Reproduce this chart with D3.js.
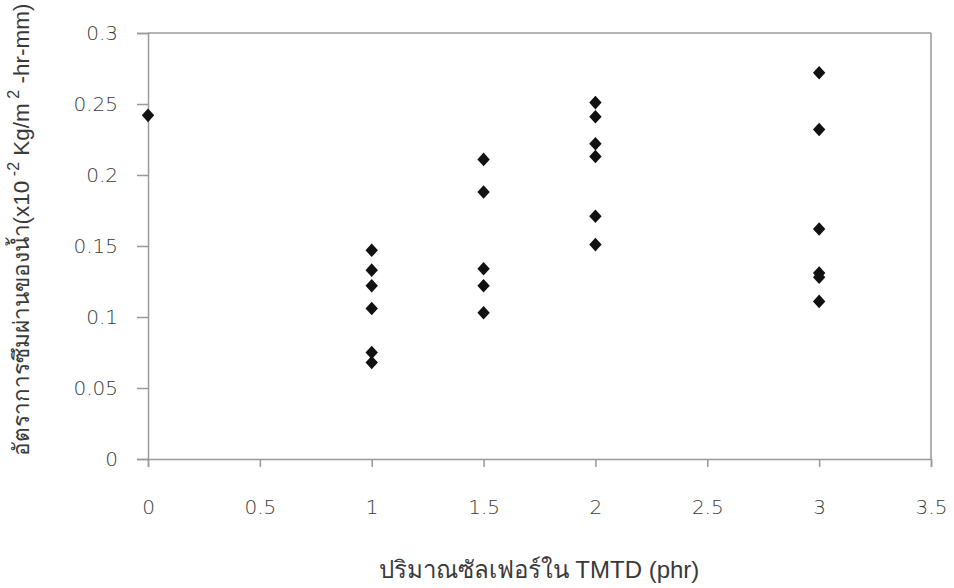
<!DOCTYPE html>
<html><head><meta charset="utf-8">
<script src="https://cdn.jsdelivr.net/npm/d3@7"></script>
<style>body{margin:0;background:#fff}svg{display:block}text{fill:#3a3a3a}</style>
</head><body><svg id="c" width="954" height="588"></svg>
<script>
const xs = [0, 1,1,1,1,1,1, 1.5,1.5,1.5,1.5,1.5, 2,2,2,2,2,2, 3,3,3,3,3,3];
const ys = [0.242, 0.147,0.133,0.122,0.106,0.075,0.068, 0.211,0.188,0.134,0.122,0.103, 0.251,0.241,0.222,0.213,0.171,0.151, 0.272,0.232,0.162,0.131,0.128,0.111];
const xTicks = [0,0.5,1,1.5,2,2.5,3,3.5];
const yTicks = [0,0.05,0.1,0.15,0.2,0.25,0.3];
const xTitle = "ปริมาณซัลเฟอร์ใน TMTD (phr)";

const svg = d3.select("#c");
const L=148,R=931,T=33,B=459;
const x = d3.scaleLinear().domain([0,3.5]).range([L,R]);
const y = d3.scaleLinear().domain([0,0.3]).range([B,T]);
const grey="#9a9a9a";
const tickFont = "'DejaVu Sans',sans-serif";

svg.append("line").attr("x1",L).attr("x2",R).attr("y1",T).attr("y2",T).attr("stroke",grey).attr("stroke-width",1.5);
svg.append("line").attr("x1",R).attr("x2",R).attr("y1",T).attr("y2",B).attr("stroke",grey).attr("stroke-width",1.5);

const xa = svg.append("g").attr("transform",`translate(0,${B})`)
  .call(d3.axisBottom(x).tickValues(xTicks).tickSize(8).tickPadding(33).tickFormat(d=>String(d)));
const ya = svg.append("g").attr("transform",`translate(${L},0)`)
  .call(d3.axisLeft(y).tickValues(yTicks).tickSize(11).tickPadding(19).tickFormat(d=>String(d)));
[xa,ya].forEach(g=>{
  g.select(".domain").attr("stroke",grey).attr("stroke-width",1.5);
  g.selectAll(".tick line").attr("stroke",grey).attr("stroke-width",1.5);
  g.selectAll(".tick text").attr("font-size",20).attr("font-weight",200).attr("fill","#333").style("font-family",tickFont);
});

const diamondType = {draw(ctx,size){const w=6.2,h=6.8;ctx.moveTo(0,-h);ctx.lineTo(w,0);ctx.lineTo(0,h);ctx.lineTo(-w,0);ctx.closePath();}};
svg.append("g").selectAll("path").data(xs.map((v,i)=>[v,ys[i]])).join("path")
  .attr("d",d3.symbol().type(diamondType).size(80))
  .attr("transform",d=>`translate(${x(d[0])},${y(d[1])})`)
  .attr("fill","#111");

svg.append("text").attr("x",539).attr("y",578).attr("text-anchor","middle")
  .style("font-family","'Liberation Sans Narrow','Liberation Sans',sans-serif")
  .attr("font-size",24).text(xTitle);

const yl = svg.append("text").attr("transform","translate(29,230) rotate(-90)")
  .attr("text-anchor","middle").attr("font-size",22.5)
  .style("font-family","'Liberation Sans Narrow','Liberation Sans',sans-serif");
yl.append("tspan").text("อัตราการซึมผ่านของน้ำ(x10");
yl.append("tspan").attr("dy",-10).attr("font-size",16).text(" -2");
yl.append("tspan").attr("dy",10).text(" Kg/m");
yl.append("tspan").attr("dy",-10).attr("font-size",16).text(" 2");
yl.append("tspan").attr("dy",10).text(" -hr-mm)");
</script></body></html>
